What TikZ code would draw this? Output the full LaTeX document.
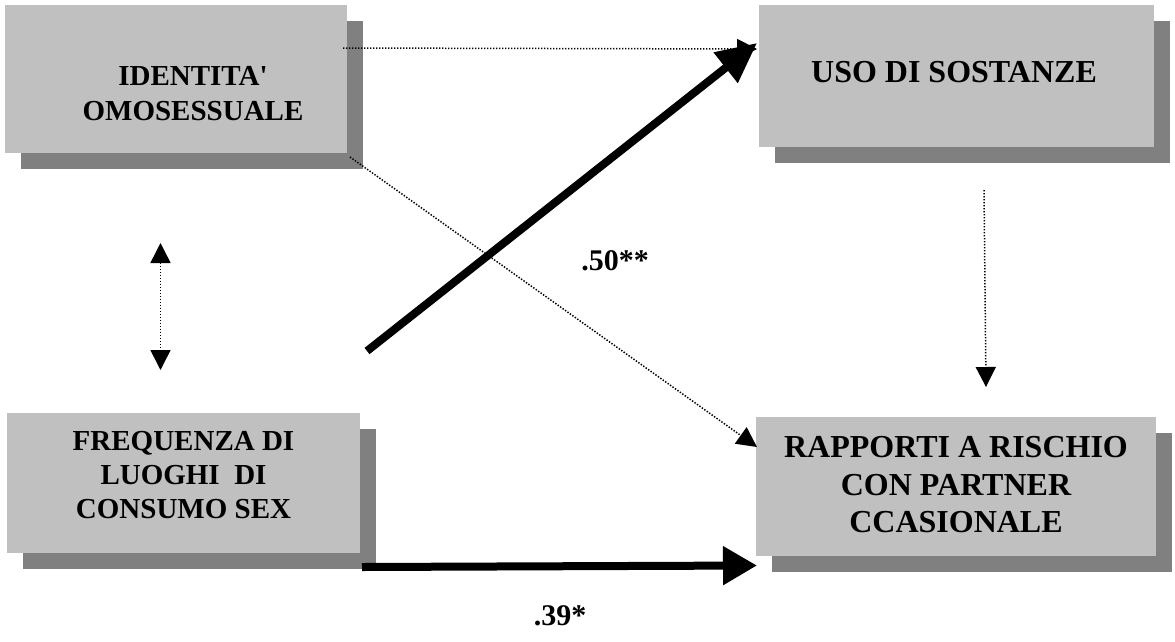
\documentclass[tikz,border=0pt]{standalone}
\usepackage{fontspec}
\setmainfont{Liberation Serif}
\newfontfamily\tnr{Liberation Serif}
\usetikzlibrary{arrows.meta,shadows}
\definecolor{boxgray}{RGB}{192,192,192}
\definecolor{shadowgray}{RGB}{128,128,128}
\newcommand{\straightquote}{\XeTeXglyph\XeTeXcharglyph"27\relax}
\begin{document}
\begin{tikzpicture}[x=1pt,y=-1pt,
  varbox/.style={rectangle, fill=boxgray, draw=none, inner sep=0pt,
    general shadow={fill=shadowgray, shadow xshift=16pt, shadow yshift=-16pt}},
  boxtext/.style={anchor=base, inner sep=0pt, font=\tnr\bfseries\fontsize{#1}{#1}\selectfont},
  boxtext/.default=30,
  dotline/.style={line width=1.5pt, dash pattern=on 1.4pt off 1.6pt},
  smallhead/.style={-{Triangle[length=20pt,width=20pt]}},
  thick arrow/.style={line width=8pt, -{Triangle[length=#1pt,width=37pt]}},
  coef/.style={anchor=base, inner sep=0pt, font=\tnr\bfseries\fontsize{30}{30}\selectfont}
]
\useasboundingbox (0,0) rectangle (1175,641);

% boxes
\node[varbox, minimum width=342pt, minimum height=148pt] (b1) at (176,79) {};
\node[varbox, minimum width=395pt, minimum height=142pt] (b2) at (956.5,76) {};
\node[varbox, minimum width=353pt, minimum height=140pt] (b3) at (183.5,483) {};
\node[varbox, minimum width=400pt, minimum height=139pt] (b4) at (956,486.5) {};

% texts
\node[boxtext=29] (t1a) at (193,85) {IDENTITA\straightquote};
\node[boxtext=29] (t1b) at (193,120) {OMOSESSUALE};
\node[boxtext=32] (t2a) at (954,82.5) {USO DI SOSTANZE};
\node[boxtext=29] (t3a) at (183.5,450) {FREQUENZA DI};
\node[boxtext=29] (t3b) at (183.5,484) {LUOGHI\ \ DI};
\node[boxtext=29] (t3c) at (183.5,518) {CONSUMO SEX};
\node[boxtext=32] (t4a) at (956,457) {RAPPORTI A RISCHIO};
\node[boxtext=32] (t4b) at (956,495) {CON PARTNER};
\node[boxtext=32] (t4c) at (956,532) {CCASIONALE};

% free ends
\coordinate (h0) at (343,48);
\coordinate (h1) at (757,49);
\coordinate (d0) at (350,157);
\coordinate (d1) at (757,447);
\coordinate (v0) at (160.5,243);
\coordinate (v1) at (160.5,370);
\coordinate (u0) at (984,190);
\coordinate (u1) at (986,387);
\coordinate (s0) at (367,351);
\coordinate (s1) at (757,43);
\coordinate (f0) at (362,567);
\coordinate (f1) at (757,565.5);

% dotted connectors
\draw[dotline, smallhead] (h0) -- (h1);
\draw[dotline, smallhead] (d0) -- (d1);
\draw[dotline, {Triangle[length=20pt,width=20pt]}-{Triangle[length=20pt,width=20pt]}] (v0) -- (v1);
\draw[dotline, smallhead] (u0) -- (u1);

% thick connectors
\draw[thick arrow=40] (s0) -- (s1);
\draw[thick arrow=34] (f0) -- (f1);

% coefficients
\node[coef] (c1) at (615,270) {.50**};
\node[coef] (c2) at (560,625) {.39*};
\end{tikzpicture}
\end{document}
